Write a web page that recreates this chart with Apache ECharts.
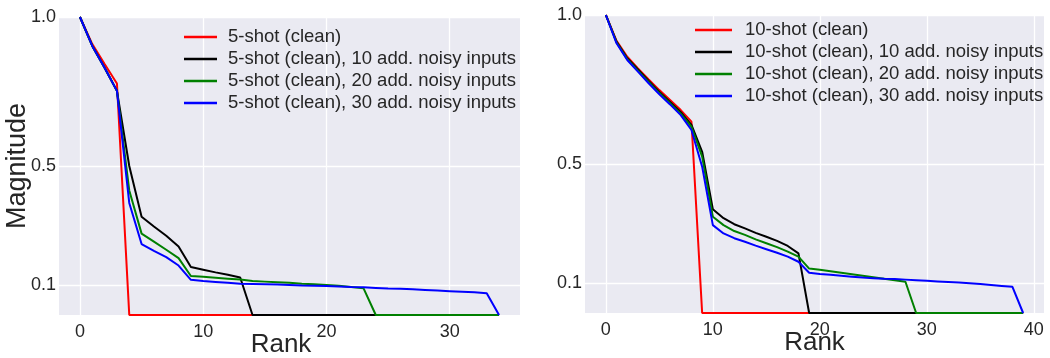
<!DOCTYPE html>
<html><head><meta charset="utf-8">
<script src="https://cdn.jsdelivr.net/npm/echarts@6/dist/echarts.min.js"></script>
<style>html,body{margin:0;padding:0;background:#fff}#c{width:1050px;height:358px}</style>
</head><body><div id="c"></div><script>
// ---- data: left panel (5-shot), value at each rank 0..34 ----
const names5 = ['5-shot (clean)', '5-shot (clean), 10 add. noisy inputs', '5-shot (clean), 20 add. noisy inputs', '5-shot (clean), 30 add. noisy inputs'];
const red5 = [1.0, 0.909, 0.842, 0.777, 0, 0, 0, 0, 0, 0, 0, 0, 0, 0, 0, 0, 0, 0, 0, 0, 0, 0, 0, 0, 0, 0, 0, 0, 0, 0, 0, 0, 0, 0, 0];
const black5 = [1.0, 0.903, 0.83, 0.752, 0.5, 0.33, 0.297, 0.266, 0.23, 0.161, 0.152, 0.143, 0.135, 0.126, 0, 0, 0, 0, 0, 0, 0, 0, 0, 0, 0, 0, 0, 0, 0, 0, 0, 0, 0, 0, 0];
const green5 = [1.0, 0.903, 0.83, 0.752, 0.418, 0.273, 0.246, 0.219, 0.191, 0.131, 0.128, 0.125, 0.122, 0.119, 0.114, 0.112, 0.110, 0.108, 0.105, 0.103, 0.101, 0.098, 0.094, 0.090, 0, 0, 0, 0, 0, 0, 0, 0, 0, 0, 0];
const blue5 = [1.0, 0.903, 0.83, 0.752, 0.376, 0.238, 0.215, 0.194, 0.166, 0.118, 0.114, 0.111, 0.108, 0.105, 0.104, 0.103, 0.102, 0.101, 0.099, 0.098, 0.097, 0.096, 0.094, 0.093, 0.091, 0.089, 0.088, 0.086, 0.084, 0.082, 0.080, 0.078, 0.076, 0.073, 0];
// ---- data: right panel (10-shot), value at each rank 0..39 ----
const names10 = ['10-shot (clean)', '10-shot (clean), 10 add. noisy inputs', '10-shot (clean), 20 add. noisy inputs', '10-shot (clean), 30 add. noisy inputs'];
const red10 = [1.0, 0.913, 0.86, 0.821, 0.784, 0.748, 0.715, 0.681, 0.642, 0, 0, 0, 0, 0, 0, 0, 0, 0, 0, 0, 0, 0, 0, 0, 0, 0, 0, 0, 0, 0, 0, 0, 0, 0, 0, 0, 0, 0, 0, 0];
const black10 = [1.0, 0.91, 0.855, 0.817, 0.779, 0.742, 0.708, 0.674, 0.631, 0.541, 0.348, 0.318, 0.298, 0.284, 0.269, 0.256, 0.242, 0.225, 0.2, 0, 0, 0, 0, 0, 0, 0, 0, 0, 0, 0, 0, 0, 0, 0, 0, 0, 0, 0, 0, 0];
const green10 = [1.0, 0.908, 0.852, 0.813, 0.775, 0.738, 0.704, 0.669, 0.625, 0.525, 0.323, 0.295, 0.275, 0.262, 0.247, 0.234, 0.221, 0.206, 0.189, 0.149, 0.145, 0.14, 0.135, 0.13, 0.125, 0.12, 0.115, 0.11, 0.105, 0, 0, 0, 0, 0, 0, 0, 0, 0, 0, 0];
const blue10 = [1.0, 0.905, 0.849, 0.81, 0.771, 0.734, 0.7, 0.664, 0.614, 0.491, 0.295, 0.267, 0.251, 0.239, 0.226, 0.214, 0.202, 0.189, 0.172, 0.135, 0.131, 0.128, 0.125, 0.122, 0.119, 0.117, 0.115, 0.114, 0.112, 0.11, 0.108, 0.106, 0.104, 0.102, 0.1, 0.097, 0.094, 0.091, 0.088, 0];
// ---- ticks ----
const xTicks5 = [0, 10, 20, 30];
const xTicks10 = [0, 10, 20, 30, 40];
const yTicks = [0.1, 0.5, 1.0];
const colors = ['#ff0000', '#000000', '#008000', '#0000ff'];

const FONT = '"Liberation Sans", Arial, sans-serif';
const TXT = '#262626';
const BG = '#EAEAF2';

function xAxisCfg(gi, min, max, ticks, pad) {
  return {
    type: 'value', gridIndex: gi, min: min, max: max,
    name: 'Rank', nameLocation: 'middle', nameGap: 17, nameMoveOverlap: false,
    nameTextStyle: { fontSize: 26, color: TXT, fontFamily: FONT, padding: pad },
    axisLine: { show: false }, axisTick: { show: false, customValues: ticks },
    axisLabel: { customValues: ticks, fontSize: 18, color: TXT, fontFamily: FONT, margin: 8 },
    splitLine: { show: true, lineStyle: { color: '#ffffff', width: 1.3 } }
  };
}
function yAxisCfg(gi, name) {
  return {
    type: 'value', gridIndex: gi, min: 0, max: 1,
    name: name, nameLocation: 'middle', nameGap: 28, nameRotate: 90, nameMoveOverlap: false,
    nameTextStyle: { fontSize: 27, color: TXT, fontFamily: FONT },
    axisLine: { show: false }, axisTick: { show: false, customValues: yTicks },
    axisLabel: { customValues: yTicks, fontSize: 18, color: TXT, fontFamily: FONT, margin: 3,
      formatter: v => Number(v).toFixed(1) },
    splitLine: { show: true, lineStyle: { color: '#ffffff', width: 1.3 } }
  };
}
function mkSeries(names, arrs, gi) {
  return arrs.map((arr, k) => ({
    name: names[k], type: 'line', xAxisIndex: gi, yAxisIndex: gi,
    symbol: 'none', showSymbol: false,
    lineStyle: { color: colors[k], width: 2 }, itemStyle: { color: colors[k] },
    data: arr.map((v, i) => [i, v])
  }));
}
function legendCfg(names, left, top, w, gap) {
  return {
    orient: 'vertical', left: left, top: top, data: names, icon: 'rect', padding: 0,
    itemWidth: w, itemHeight: 2.5, itemGap: 0, selectedMode: false,
    textStyle: { fontSize: 18.5, color: TXT, fontFamily: FONT, lineHeight: 22, padding: [0, 0, 0, gap] }
  };
}

const chart = echarts.init(document.getElementById('c'), null, { renderer: 'canvas' });
chart.setOption({
  animation: false,
  backgroundColor: '#ffffff',
  grid: [
    { left: 59, right: 530, top: 17, bottom: 43, show: true, backgroundColor: BG, borderWidth: 0, outerBoundsMode: 'none', containLabel: false },
    { left: 585, right: 6, top: 15, bottom: 45, show: true, backgroundColor: BG, borderWidth: 0, outerBoundsMode: 'none', containLabel: false }
  ],
  xAxis: [xAxisCfg(0, -1.7, 35.7, xTicks5, [0, 17, 0, 0]), xAxisCfg(1, -1.95, 40.95, xTicks10, 0)],
  yAxis: [yAxisCfg(0, 'Magnitude'), yAxisCfg(1, '')],
  legend: [legendCfg(names5, 184, 26, 33, 6), legendCfg(names10, 695, 19, 37, 8)],
  series: mkSeries(names5, [red5, black5, green5, blue5], 0).concat(mkSeries(names10, [red10, black10, green10, blue10], 1))
});
</script></body></html>
